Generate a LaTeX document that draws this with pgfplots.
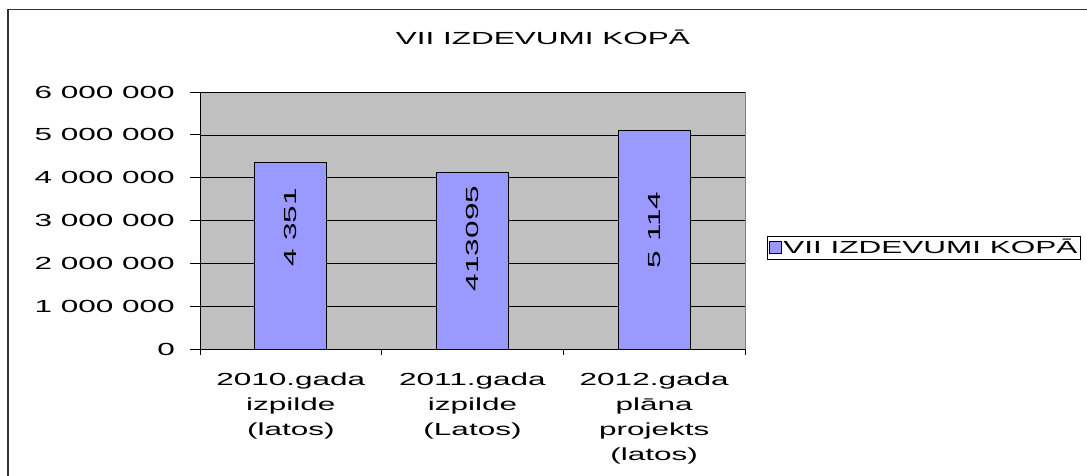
\documentclass[border=0pt]{standalone}
\usepackage{fontspec}
\setmainfont{Liberation Sans}[FakeStretch=1.8]
\usepackage{pgfplots}
\pgfplotsset{compat=1.18}
\definecolor{barblue}{RGB}{153,153,255}
\definecolor{plotgray}{RGB}{192,192,192}
\newcommand{\ff}{\fontsize{17.5}{25}\selectfont}
\begin{document}
\begin{tikzpicture}[x=1pt,y=1pt,font=\ff]
\path[use as bounding box] (0,0) rectangle (1087,475);
\draw[line width=1.5pt, black!80] (8,-5) -- (8,465.5) -- (1095,465.5);
\begin{axis}[
 at={(200pt,126pt)}, anchor=south west,
 scale only axis, width=545pt, height=257pt,
 xmin=-0.5, xmax=2.5, ymin=0, ymax=6000000,
 axis lines*=left,
 axis line style={-, black, line width=0.8pt},
 axis background/.style={fill=plotgray, draw=gray},
 ytick={0,1000000,2000000,3000000,4000000,5000000,6000000},
 scaled y ticks=false,
 /pgf/number format/.cd, fixed, 1000 sep={\ }, assume math mode=true, /pgfplots/.cd,
 ymajorgrids, grid style={black, line width=0.6pt},
 major tick length=10pt, tick align=outside,
 tick style={black, line width=0.8pt},
 yticklabel style={font=\ff, anchor=east, inner sep=0pt, xshift=-15pt},
 xtick={-0.5,0.5,1.5,2.5}, xticklabels={},
 xtick style={/pgfplots/major tick length=6pt},
 extra x ticks={0,1,2},
 extra x tick labels={{2010.gada\\izpilde\\(latos)},{2011.gada\\izpilde\\(Latos)},{2012.gada\\plāna\\projekts\\(latos)}},
 extra x tick style={tick style={draw=none}, xticklabel style={font=\ff, align=center, anchor=north, inner sep=0pt, yshift=-14pt}},
 title={VII IZDEVUMI KOPĀ},
 title style={font=\ff, at={(0.629,1.163)}, anchor=base, inner sep=0pt},
 legend style={at={(1.04,0.395)}, anchor=west, draw=black, fill=white, font=\ff, inner sep=1.5pt, line width=0.8pt},
 ybar, bar width=72pt,
 legend image code/.code={\draw[fill=barblue, draw=black, line width=0.6pt] (0pt,-6pt) rectangle (12pt,6pt);},
]
\addplot[fill=barblue, draw=black, line width=0.8pt] coordinates {(0,4351000) (1,4130950) (2,5114000)};
\addlegendentry{VII IZDEVUMI KOPĀ}
\node[rotate=90] at (axis cs:0,2840000) {4 351};
\node[rotate=90] at (axis cs:1,2580000) {413095};
\node[rotate=90] at (axis cs:2,2780000) {5 114};
\end{axis}
\end{tikzpicture}
\end{document}
